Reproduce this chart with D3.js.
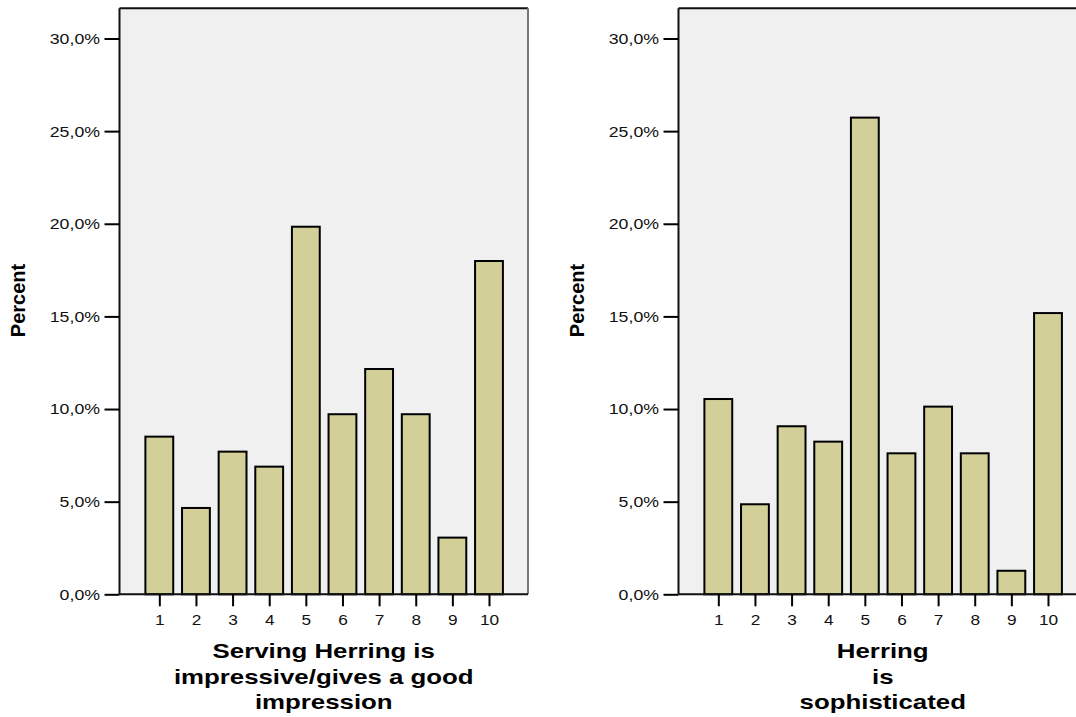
<!DOCTYPE html>
<html><head><meta charset="utf-8">
<script src="https://cdn.jsdelivr.net/npm/d3@7"></script>
<style>body{margin:0;background:#fff}svg{display:block}</style>
</head><body><svg id="c" width="1076" height="717"></svg>
<script>
const categories = [1,2,3,4,5,6,7,8,9,10];
const impressiveValues = [8.51,4.66,7.70,6.89,19.84,9.72,12.16,9.72,3.06,17.99];
const sophisticatedValues = [10.54,4.86,9.07,8.24,25.73,7.61,10.13,7.61,1.27,15.18];
const yTicks = [0,5,10,15,20,25,30];
const yTickLabels = ["0,0%","5,0%","10,0%","15,0%","20,0%","25,0%","30,0%"];
const xTitleLeft = ["Serving Herring is","impressive/gives a good","impression"];
const xTitleRight = ["Herring","is","sophisticated"];
const yTitle = "Percent";

const svg = d3.select("#c");
svg.append("rect").attr("width",1076).attr("height",717).attr("fill","#fff");
const FONT = "'Liberation Sans', Arial, sans-serif";

function panel(x0, x1, values, titleLines) {
  const top = 8.3, bottom = 594.3;
  const x = d3.scaleLinear().domain([-0.087, 11.065]).range([x0, x1]);
  const y = d3.scaleLinear().domain([0, 31.63]).range([bottom, top]);
  const g = svg.append("g");
  g.append("rect").attr("x",x0).attr("y",top).attr("width",x1-x0).attr("height",bottom-top).attr("fill","#f0f0f0");
  const bw = x(0.76) - x(0);
  g.selectAll("rect.bar").data(values).join("rect").attr("class","bar")
    .attr("x",(d,i)=>x(categories[i]) - bw/2)
    .attr("y",d=>y(d))
    .attr("width",bw)
    .attr("height",d=>bottom - y(d))
    .attr("fill","#d3cf98").attr("stroke","#000").attr("stroke-width",2);
  // frame
  g.append("line").attr("x1",x0).attr("x2",x1).attr("y1",top).attr("y2",top).attr("stroke","#111").attr("stroke-width",2);
  g.append("line").attr("x1",x1).attr("x2",x1).attr("y1",top).attr("y2",bottom).attr("stroke","#777").attr("stroke-width",2);
  g.append("line").attr("x1",x0).attr("x2",x0).attr("y1",top).attr("y2",bottom).attr("stroke","#111").attr("stroke-width",2);
  g.append("line").attr("x1",x0).attr("x2",x1).attr("y1",bottom).attr("y2",bottom).attr("stroke","#111").attr("stroke-width",2);

  const ya = g.append("g").attr("transform",`translate(${x0},0)`)
    .call(d3.axisLeft(y).tickValues(yTicks).tickSize(15).tickFormat((d,i)=>yTickLabels[i]));
  ya.select(".domain").remove();
  ya.selectAll(".tick line").attr("stroke","#000").attr("stroke-width",2);
  ya.selectAll(".tick text").attr("x",-17).attr("fill","#111")
    .style("font-family",FONT).style("font-size","15.4px").attr("transform","scale(1.15,1)");

  const xa = g.append("g").attr("transform",`translate(0,${bottom})`)
    .call(d3.axisBottom(x).tickValues(categories).tickSize(12).tickFormat(d=>String(d)));
  xa.select(".domain").remove();
  xa.selectAll(".tick line").attr("stroke","#000").attr("stroke-width",2);
  xa.selectAll(".tick text").attr("y",19.5).attr("fill","#111")
    .style("font-family",FONT).style("font-size","15.4px").attr("transform","scale(1.12,1)");

  const cx = (x0 + x1) / 2;
  const baselines = [658, 683.5, 708.5];
  titleLines.forEach((t,i)=>{
    g.append("text").attr("transform",`translate(${cx},${baselines[i]}) scale(1.23,1)`)
      .attr("text-anchor","middle").style("font-family",FONT).style("font-weight","bold")
      .style("font-size","21px").attr("fill","#000").text(t);
  });
  g.append("text").attr("transform",`translate(${x0-94.5},300.5) rotate(-90)`)
    .attr("text-anchor","middle").style("font-family",FONT).style("font-weight","bold")
    .style("font-size","20px").attr("fill","#000").text(yTitle);
}

panel(119.5, 528, impressiveValues, xTitleLeft);
panel(678.5, 1087, sophisticatedValues, xTitleRight);
</script></body></html>
